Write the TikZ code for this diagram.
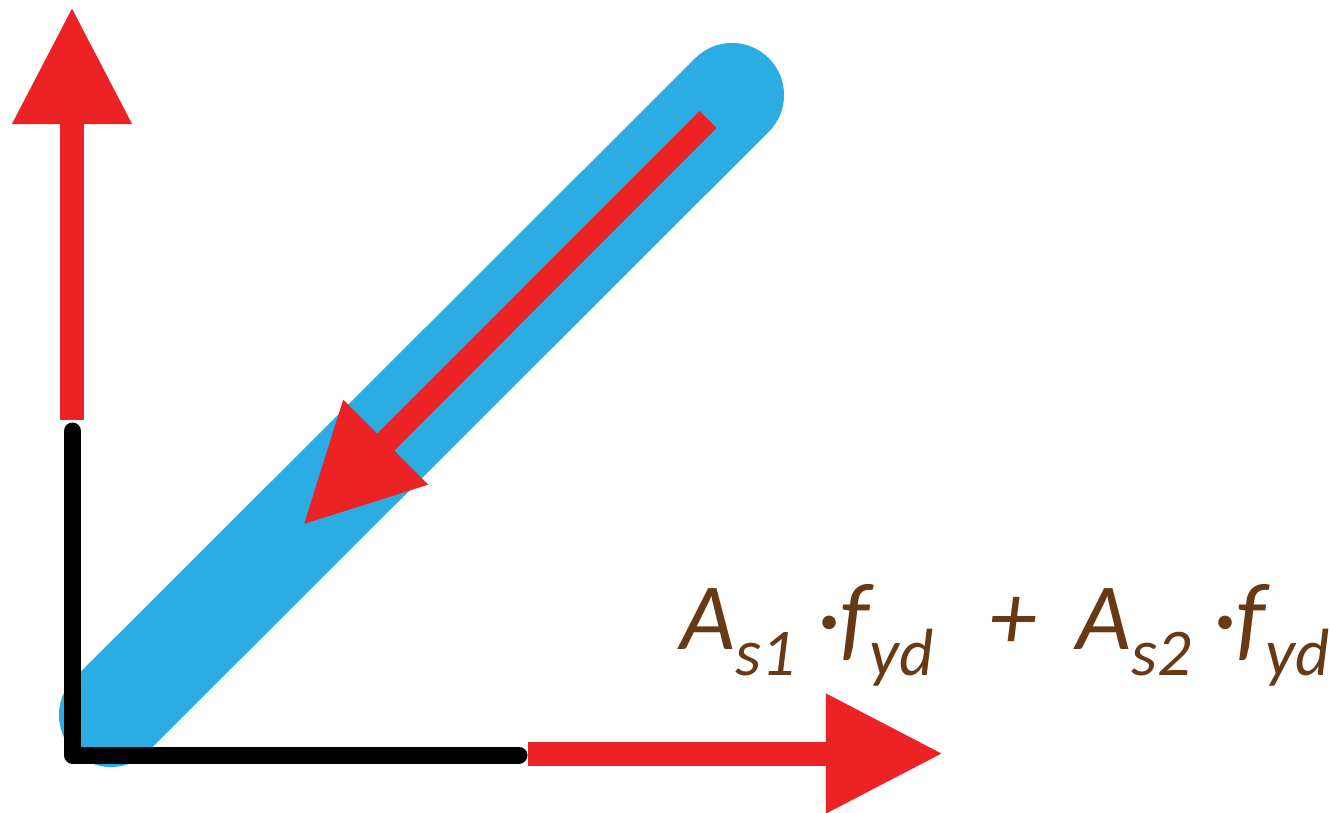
\documentclass[tikz,border=0pt]{standalone}
\usepackage{fontspec}
\setmainfont{Carlito}
\usetikzlibrary{arrows.meta}
\definecolor{barblue}{HTML}{2BACE2}
\definecolor{forcered}{HTML}{ED2224}
\definecolor{labelbrown}{HTML}{673915}
\newcommand{\lowsub}[1]{\raisebox{-0.26cm}{\fontsize{19}{19}\selectfont #1}}

\begin{document}
\begin{tikzpicture}[
  x=0.01cm, y=-0.01cm,
  every node/.style={inner sep=0pt},
  bar/.style={draw=barblue, line width=1.04cm, line cap=round},
  force/.style={draw=forcered, line width=0.24cm, -{Triangle[length=1.17cm, width=1.13cm]}},
  frame/.style={draw=black, line width=0.17cm, line cap=round, line join=round},
  lbl/.style={text=labelbrown, font=\itshape\fontsize{27}{27}\selectfont, anchor=base west}]
  \useasboundingbox (0,0) rectangle (1331,812);

  % points
  \coordinate (barlow)  at (111,715);
  \coordinate (barhigh) at (732,95);
  \coordinate (vtail)   at (72,420);
  \coordinate (vtip)    at (72,7);
  \coordinate (htail)   at (528,753.5);
  \coordinate (htip)    at (943,753.5);
  \coordinate (dtail)   at (708,119.5);
  \coordinate (dtip)    at (303,525);
  \coordinate (ftop)    at (72.5,431);
  \coordinate (fcorner) at (72.5,755);
  \coordinate (fright)  at (519,755);

  % bar, frame and forces
  \draw[bar]   (barlow) -- (barhigh);
  \draw[frame] (ftop) -- (fcorner) -- (fright);
  \draw[force] (vtail) -- (vtip);
  \draw[force] (htail) -- (htip);
  \draw[force] (dtail) -- (dtip);

  % label
  \node[lbl] (sum) at (680,649) {A\lowsub{s1} ·f\lowsub{yd}\hspace{0.55cm}+\hspace{0.4cm}A\lowsub{s2} ·f\lowsub{yd}};
\end{tikzpicture}
\end{document}
